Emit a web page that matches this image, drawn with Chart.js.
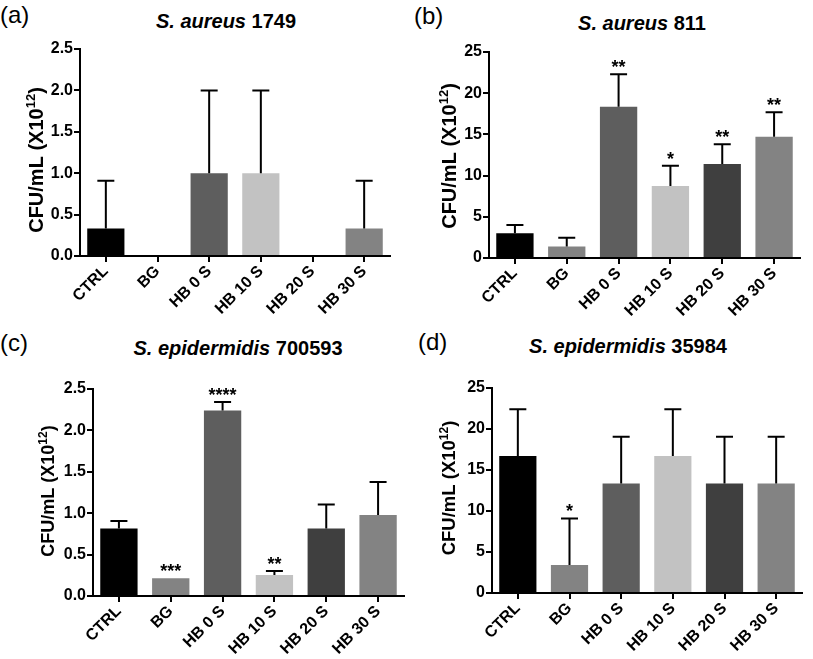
<!DOCTYPE html>
<html>
<head>
<meta charset="utf-8">
<script src="https://cdn.jsdelivr.net/npm/chart.js@4.4.1/dist/chart.umd.min.js"></script>
<style>
  html, body { margin: 0; padding: 0; background: #fff; }
  body { width: 813px; height: 659px; position: relative; overflow: hidden; font-family: "Liberation Sans", Arial, sans-serif; }
  .panel-label { position: absolute; font-size: 24px; line-height: 28px; color: #000; }
  .panel-title { position: absolute; font-size: 20px; line-height: 22px; font-weight: bold; color: #000; transform: translateX(-50%); white-space: nowrap; }
  canvas { position: absolute; }
</style>
</head>
<body>
<div class="panel-label" style="left:0px;top:1px">(a)</div>
<div class="panel-label" style="left:414px;top:2px">(b)</div>
<div class="panel-label" style="left:0px;top:329px">(c)</div>
<div class="panel-label" style="left:418px;top:328px">(d)</div>

<div class="panel-title" style="left:226px;top:10px"><i>S. aureus</i> 1749</div>
<div class="panel-title" style="left:642px;top:12px"><i>S. aureus</i> 811</div>
<div class="panel-title" style="left:238px;top:337px"><i>S. epidermidis</i> 700593</div>
<div class="panel-title" style="left:628px;top:335px"><i>S. epidermidis</i> 35984</div>

<canvas id="chartA"></canvas>
<canvas id="chartB"></canvas>
<canvas id="chartC"></canvas>
<canvas id="chartD"></canvas>

<script>
// data (mean and upper SD, CFU/mL x10^12)
const categories = ['CTRL', 'BG', 'HB 0 S', 'HB 10 S', 'HB 20 S', 'HB 30 S'];
const barColors = ['#000000', '#838383', '#5e5e5e', '#c2c2c2', '#3f3f3f', '#838383'];

const aureus1749Mean = [0.333, 0, 1.0, 1.0, 0, 0.333];
const aureus1749Sd = [0.577, 0, 1.0, 1.0, 0, 0.577];
const aureus1749Stars = ['', '', '', '', '', ''];

const aureus811Mean = [3.0, 1.4, 18.35, 8.75, 11.4, 14.7];
const aureus811Sd = [1.0, 1.05, 3.95, 2.45, 2.4, 3.0];
const aureus811Stars = ['', '', '**', '*', '**', '**'];

const epi700593Mean = [0.815, 0.213, 2.24, 0.253, 0.815, 0.977];
const epi700593Sd = [0.09, 0, 0.104, 0.048, 0.29, 0.40];
const epi700593Stars = ['', '***', '****', '**', '', ''];

const epi35984Mean = [16.7, 3.4, 13.35, 16.7, 13.35, 13.35];
const epi35984Sd = [5.7, 5.7, 5.7, 5.7, 5.7, 5.7];
const epi35984Stars = ['', '*', '', '', '', ''];

const smallTicks = ['0.0', '0.5', '1.0', '1.5', '2.0', '2.5'];
const largeTicks = ['0', '5', '10', '15', '20', '25'];

// y axis title, split so the exponent can be drawn raised
const yTitleParts = ['CFU/mL (X10', '12', ')'];
const fontFamily = '"Liberation Sans", Arial, sans-serif';

// draws the upper error bars and the significance stars
const errorBarsPlugin = {
    id: 'errorBars',
    afterDatasetsDraw(chart, args, opts) {
        const ctx = chart.ctx;
        const xs = chart.scales.x;
        const ys = chart.scales.y;
        const mean = chart.data.datasets[0].data;
        ctx.save();
        ctx.strokeStyle = '#000';
        ctx.fillStyle = '#000';
        ctx.lineWidth = 2;
        mean.forEach((m, i) => {
            const sd = opts.sd[i];
            const x = xs.getPixelForValue(i);
            const yTop = ys.getPixelForValue(m + sd);
            if (sd > 0) {
                ctx.beginPath();
                ctx.moveTo(x, ys.getPixelForValue(m));
                ctx.lineTo(x, yTop);
                ctx.moveTo(x - 8.5, yTop);
                ctx.lineTo(x + 8.5, yTop);
                ctx.stroke();
            }
            if (opts.stars[i]) {
                ctx.font = 'bold 18px ' + fontFamily;
                ctx.textAlign = 'center';
                ctx.textBaseline = 'alphabetic';
                ctx.fillText(opts.stars[i], x, yTop - 1);
            }
        });
        ctx.restore();
    }
};

// rotated y title with a real superscript
const yTitlePlugin = {
    id: 'yTitle',
    afterDraw(chart, args, opts) {
        const ctx = chart.ctx;
        const size = opts.size;
        const supSize = Math.round(size * 0.65);
        const main = 'bold ' + size + 'px ' + fontFamily;
        const sup = 'bold ' + supSize + 'px ' + fontFamily;
        ctx.save();
        ctx.font = main;
        const w0 = ctx.measureText(yTitleParts[0]).width;
        const w2 = ctx.measureText(yTitleParts[2]).width;
        ctx.font = sup;
        const w1 = ctx.measureText(yTitleParts[1]).width;
        const total = w0 + w1 + w2;
        ctx.translate(opts.x, opts.y);
        ctx.rotate(-Math.PI / 2);
        ctx.fillStyle = '#000';
        ctx.textAlign = 'left';
        ctx.textBaseline = 'middle';
        let pos = -total / 2;
        ctx.font = main;
        ctx.fillText(yTitleParts[0], pos, 0);
        pos += w0;
        ctx.font = sup;
        ctx.fillText(yTitleParts[1], pos, -size * 0.3);
        pos += w1;
        ctx.font = main;
        ctx.fillText(yTitleParts[2], pos, 0);
        ctx.restore();
    }
};

function makePanel(id, box, mean, sd, stars, yMax, yStep, tickLabels) {
    const canvas = document.getElementById(id);
    const left = box.axisLeft - 80;
    const top = box.plotTop - 15;
    canvas.width = box.axisRight - left + 6;
    canvas.height = box.plotBottom - top + 70;
    canvas.style.left = left + 'px';
    canvas.style.top = top + 'px';

    return new Chart(canvas, {
        type: 'bar',
        data: {
            labels: categories,
            datasets: [{
                data: mean,
                backgroundColor: barColors,
                borderWidth: 0,
                barPercentage: 0.72,
                categoryPercentage: 1.0
            }]
        },
        options: {
            responsive: false,
            animation: false,
            layout: { padding: { left: 0, top: 15, right: 6, bottom: 0 } },
            plugins: {
                legend: { display: false },
                tooltip: { enabled: false },
                errorBars: { sd: sd, stars: stars },
                yTitle: { x: box.titleX - left, y: box.titleY - top, size: box.titleSize }
            },
            scales: {
                x: {
                    ticks: {
                        color: '#000',
                        font: { family: fontFamily, size: 16, weight: 'bold' },
                        minRotation: 45,
                        maxRotation: 45,
                        autoSkip: false,
                        padding: 0
                    },
                    grid: { offset: false, drawOnChartArea: false, drawTicks: true, tickLength: 6, color: '#000', lineWidth: 2 },
                    border: { color: '#000', width: 2 },
                    afterFit: s => { s.height = 70; }
                },
                y: {
                    min: 0,
                    max: yMax,
                    ticks: {
                        stepSize: yStep,
                        color: '#000',
                        font: { family: fontFamily, size: 16, weight: 'bold' },
                        padding: 1,
                        callback: (v, i) => tickLabels[i]
                    },
                    grid: { drawOnChartArea: false, drawTicks: true, tickLength: 6, color: '#000', lineWidth: 2 },
                    border: { color: '#000', width: 2 },
                    afterFit: s => { s.width = 80; }
                }
            }
        },
        plugins: [errorBarsPlugin, yTitlePlugin]
    });
}

makePanel('chartA', { axisLeft: 80, axisRight: 390, plotTop: 49, plotBottom: 256, titleX: 37.5, titleY: 160, titleSize: 20 },
    aureus1749Mean, aureus1749Sd, aureus1749Stars, 2.5, 0.5, smallTicks);
makePanel('chartB', { axisLeft: 489, axisRight: 800, plotTop: 52, plotBottom: 258, titleX: 450, titleY: 156, titleSize: 20 },
    aureus811Mean, aureus811Sd, aureus811Stars, 25, 5, largeTicks);
makePanel('chartC', { axisLeft: 93, axisRight: 404, plotTop: 389, plotBottom: 596, titleX: 49.5, titleY: 491, titleSize: 18 },
    epi700593Mean, epi700593Sd, epi700593Stars, 2.5, 0.5, smallTicks);
makePanel('chartD', { axisLeft: 492, axisRight: 802, plotTop: 388, plotBottom: 593, titleX: 450, titleY: 488, titleSize: 18.5 },
    epi35984Mean, epi35984Sd, epi35984Stars, 25, 5, largeTicks);
</script>
</body>
</html>
